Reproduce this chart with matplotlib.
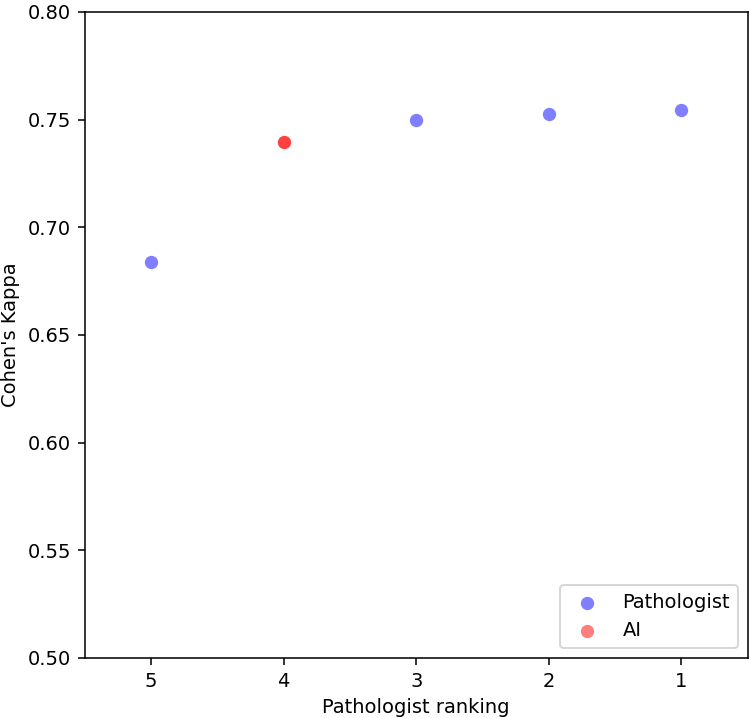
import numpy as np
import matplotlib
matplotlib.use('Agg')
from matplotlib import pyplot as plt

# ranking labels shown left to right
rank_labels = ["5", "4", "3", "2", "1"]
kappa = [0.684, 0.7398, 0.7497, 0.7527, 0.7547]
is_ai = [False, True, False, False, False]

DPI = 140
fig = plt.figure(figsize=(750 / DPI, 718 / DPI), dpi=DPI)
ax = fig.add_axes([0.1133, 0.0836, 0.8834, 0.8997])

x = np.arange(len(rank_labels))
kappa = np.array(kappa)
ai = np.array(is_ai)

ax.scatter(x[~ai], kappa[~ai], s=47, color="blue", alpha=0.5, linewidths=0)
ax.scatter(x[ai], kappa[ai], s=47, color="red", alpha=0.75, linewidths=0)

# legend handles use the plain 0.5 alpha
h1 = ax.scatter([], [], s=47, color="blue", alpha=0.5, linewidths=0, label="Pathologist")
h2 = ax.scatter([], [], s=47, color="red", alpha=0.5, linewidths=0, label="AI")
ax.legend(handles=[h1, h2], loc="lower right")

ax.set_xticks(x)
ax.set_xticklabels(rank_labels)
ax.set_xlim(-0.5, len(rank_labels) - 0.5)
ax.set_ylim(0.50, 0.80)
ax.set_yticks(np.arange(0.50, 0.801, 0.05))
ax.set_xlabel("Pathologist ranking")
ax.set_ylabel("Cohen's Kappa")

fig.savefig("out.png", dpi=DPI)
